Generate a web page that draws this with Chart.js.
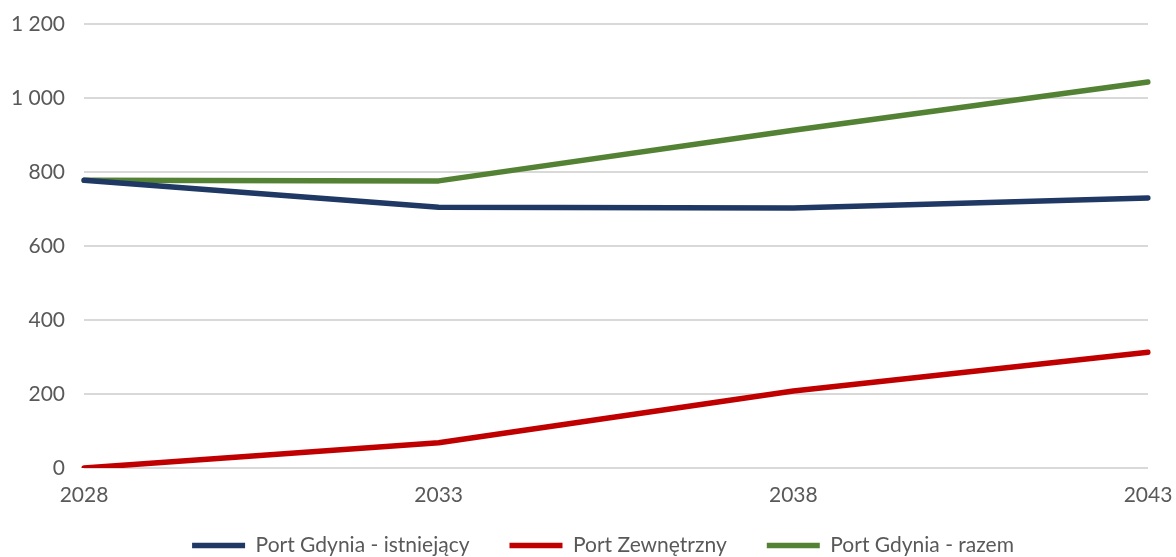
<!DOCTYPE html>
<html>
<head>
<meta charset="utf-8">
<script src="https://cdn.jsdelivr.net/npm/chart.js@4"></script>
<style>
  html, body { margin: 0; padding: 0; background: #fff; }
  #wrap { width: 1176px; height: 557px; position: relative; }
</style>
</head>
<body>
<div id="wrap"><canvas id="c"></canvas></div>
<script>
const years = ['2028', '2033', '2038', '2043'];
const gdyniaIstniejacy = [778, 705, 703, 730];
const portZewnetrzny = [0, 68, 208, 313];
const gdyniaRazem = [778, 776, 913, 1043];
const seriesNames = ['Port Gdynia - istniejący', 'Port Zewnętrzny', 'Port Gdynia - razem'];

const fmt = v => String(v).replace(/\B(?=(\d{3})+(?!\d))/g, ' ');

function ds(label, data, color) {
  return {
    label, data,
    borderColor: color, backgroundColor: color,
    borderWidth: 5.5, pointRadius: 0, pointHoverRadius: 0,
    borderCapStyle: 'round', borderJoinStyle: 'round',
    tension: 0, fill: false
  };
}

// place the legend row below the x axis, where the reference has it
const legendPlace = {
  id: 'legendPlace',
  afterLayout(chart) {
    const l = chart.legend;
    l.top = 495;
    l.bottom = chart.height;
    l.left = 15;
    l.right = chart.width + 15;
  }
};

new Chart(document.getElementById('c'), {
  type: 'line',
  data: {
    labels: years,
    datasets: [
      ds(seriesNames[0], gdyniaIstniejacy, '#203864'),
      ds(seriesNames[1], portZewnetrzny, '#C00000'),
      ds(seriesNames[2], gdyniaRazem, '#548235')
    ]
  },
  plugins: [legendPlace],
  options: {
    responsive: true,
    maintainAspectRatio: false,
    animation: false,
    layout: { padding: { top: 24, right: 28, left: 0, bottom: 0 } },
    plugins: {
      tooltip: { enabled: false },
      legend: {
        position: 'bottom',
        maxHeight: 48,
        labels: {
          usePointStyle: true,
          pointStyle: 'line',
          pointStyleWidth: 53,
          boxHeight: 21,
          padding: 40,
          color: '#595959',
          font: { family: 'Lato', size: 21 }
        }
      }
    },
    scales: {
      x: {
        offset: false,
        grid: { display: false, drawTicks: false },
        border: { display: false },
        ticks: { color: '#595959', font: { family: 'Lato', size: 21 }, padding: 15, maxRotation: 0, autoSkip: false },
        afterFit: s => { s.height = 41; s.paddingLeft = 0; s.paddingRight = 0; }
      },
      y: {
        min: 0, max: 1200,
        grid: { color: '#d9d9d9', lineWidth: 2, drawTicks: false },
        border: { display: false },
        ticks: { stepSize: 200, color: '#595959', font: { family: 'Lato', size: 21 }, padding: 19, callback: v => fmt(v) },
        afterFit: s => { s.width = 84; s.paddingTop = 0; s.paddingBottom = 0; }
      }
    }
  }
});
</script>
</body>
</html>
